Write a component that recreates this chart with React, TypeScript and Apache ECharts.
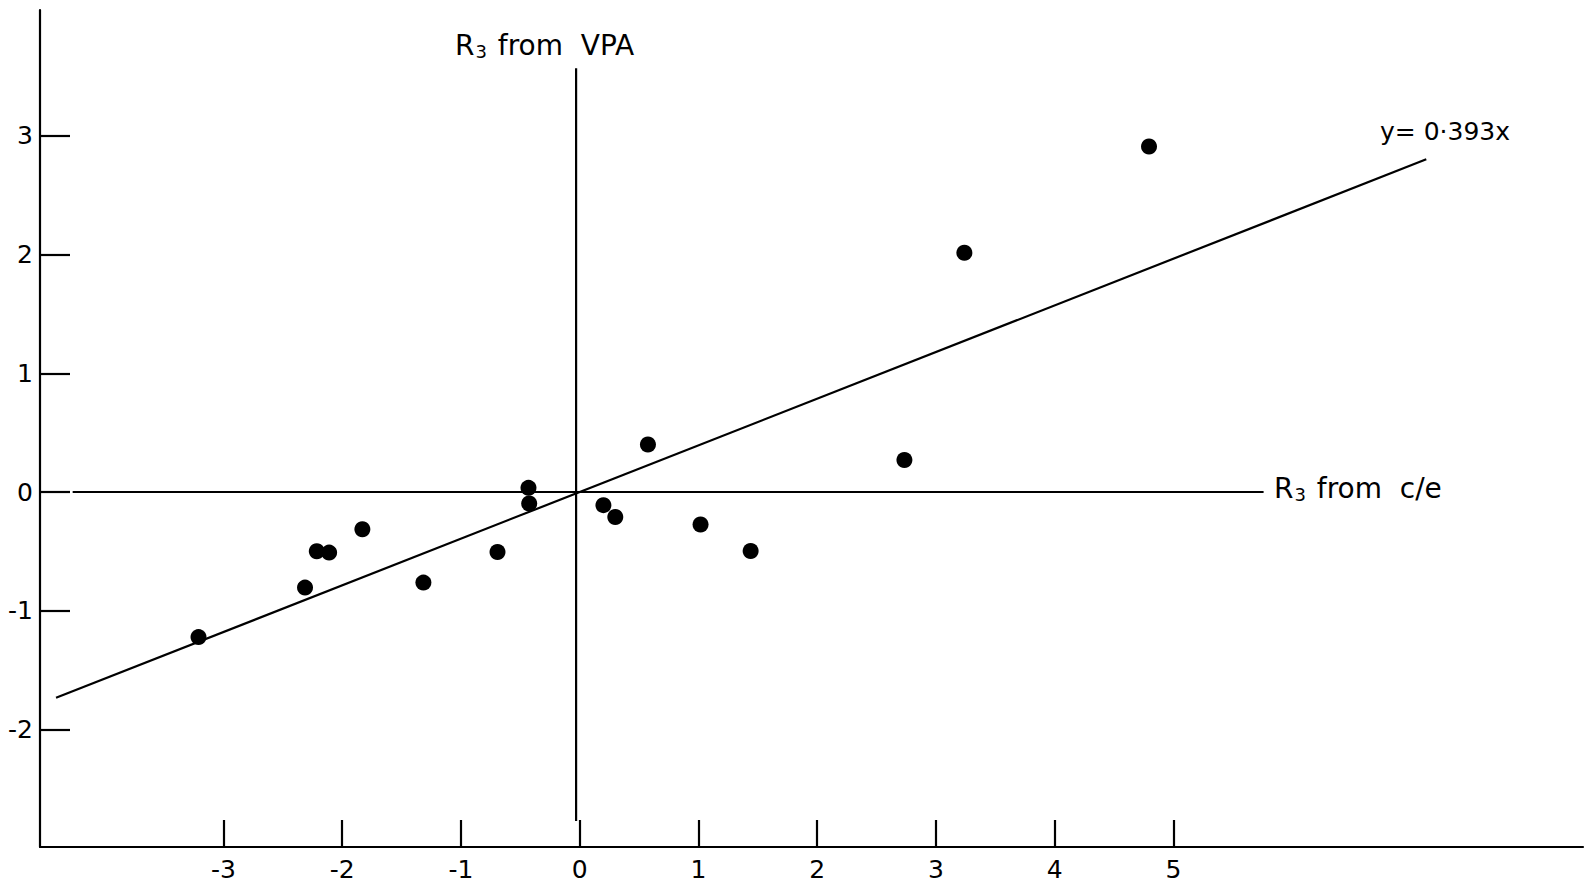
import React, { useEffect, useRef } from "react";
import * as echarts from "echarts";

// Data
const pointsX = [-3.21, -2.313, -2.214, -2.11, -1.83, -1.316, -0.692, -0.431, -0.425, 0.2, 0.3, 0.575, 1.018, 1.44, 2.735, 3.24, 4.795];
const pointsY = [-1.222, -0.805, -0.499, -0.51, -0.314, -0.763, -0.505, 0.035, -0.097, -0.111, -0.21, 0.4, -0.274, -0.497, 0.27, 2.015, 2.91];
const slope = 0.393;
const fitX = [-4.41, 7.13];
const xTicks = [-3, -2, -1, 0, 1, 2, 3, 4, 5];
const yTicks = [-2, -1, 0, 1, 2, 3];
const hAxisX = [-4.27, 5.76];
const vAxisY = [-2.77, 3.57];

const FONT = "'DejaVu Sans', sans-serif";

export default function App() {
  const ref = useRef<HTMLDivElement>(null);
  useEffect(() => {
    if (!ref.current) return;
    const chart = echarts.init(ref.current, undefined, { renderer: "svg" });
    const lineStyle = { color: "#000", width: 2.2 };
    const rich = {
      m: { fontSize: 28, fontFamily: FONT, fill: "#000", color: "#000" },
      s: { fontSize: 18, fontFamily: FONT, fill: "#000", color: "#000", padding: [13, 2, 0, 1] },
    };
    chart.setOption({
      animation: false,
      backgroundColor: "#fff",
      grid: { left: 40, right: 8, top: 10, bottom: 38, containLabel: false },
      xAxis: {
        type: "value",
        min: -4.545,
        max: 8.45,
        splitLine: { show: false },
        axisLine: { show: true, onZero: false, lineStyle },
        axisTick: { show: true, inside: true, length: 27, lineStyle, customValues: xTicks },
        axisLabel: {
          show: true,
          customValues: xTicks,
          margin: 10,
          color: "#000",
          fontSize: 25,
          fontFamily: FONT,
        },
      },
      yAxis: {
        type: "value",
        min: -2.99,
        max: 4.06,
        splitLine: { show: false },
        axisLine: { show: true, onZero: false, lineStyle },
        axisTick: { show: true, inside: true, length: 30, lineStyle, customValues: yTicks },
        axisLabel: {
          show: true,
          customValues: yTicks,
          margin: 7,
          color: "#000",
          fontSize: 25,
          fontFamily: FONT,
        },
      },
      series: [
        {
          type: "line",
          data: hAxisX.map((x) => [x, 0]),
          symbol: "none",
          lineStyle,
          silent: true,
        },
        {
          type: "line",
          data: vAxisY.map((y) => [-0.03, y]),
          symbol: "none",
          lineStyle,
          silent: true,
        },
        {
          type: "line",
          data: fitX.map((x) => [x, slope * x]),
          symbol: "none",
          lineStyle,
          silent: true,
        },
        {
          type: "scatter",
          data: pointsX.map((x, i) => [x, pointsY[i]]),
          symbol: "circle",
          symbolSize: 16,
          itemStyle: { color: "#000", opacity: 1 },
        },
      ],
      graphic: [
        {
          type: "text",
          left: 455,
          top: 31,
          style: { text: "{m|R}{s|3}{m| from  VPA}", rich },
        },
        {
          type: "text",
          left: 1274,
          top: 474,
          style: { text: "{m|R}{s|3}{m| from  c/e}", rich },
        },
        {
          type: "text",
          left: 1380,
          top: 119,
          style: {
            text: "y= 0·393x",
            fontSize: 25,
            fontFamily: FONT,
            fill: "#000",
          },
        },
      ],
    });
    return () => chart.dispose();
  }, []);
  return (
    <div
      ref={ref}
      style={{ position: "fixed", left: 0, top: 0, width: 1591, height: 885 }}
    />
  );
}
